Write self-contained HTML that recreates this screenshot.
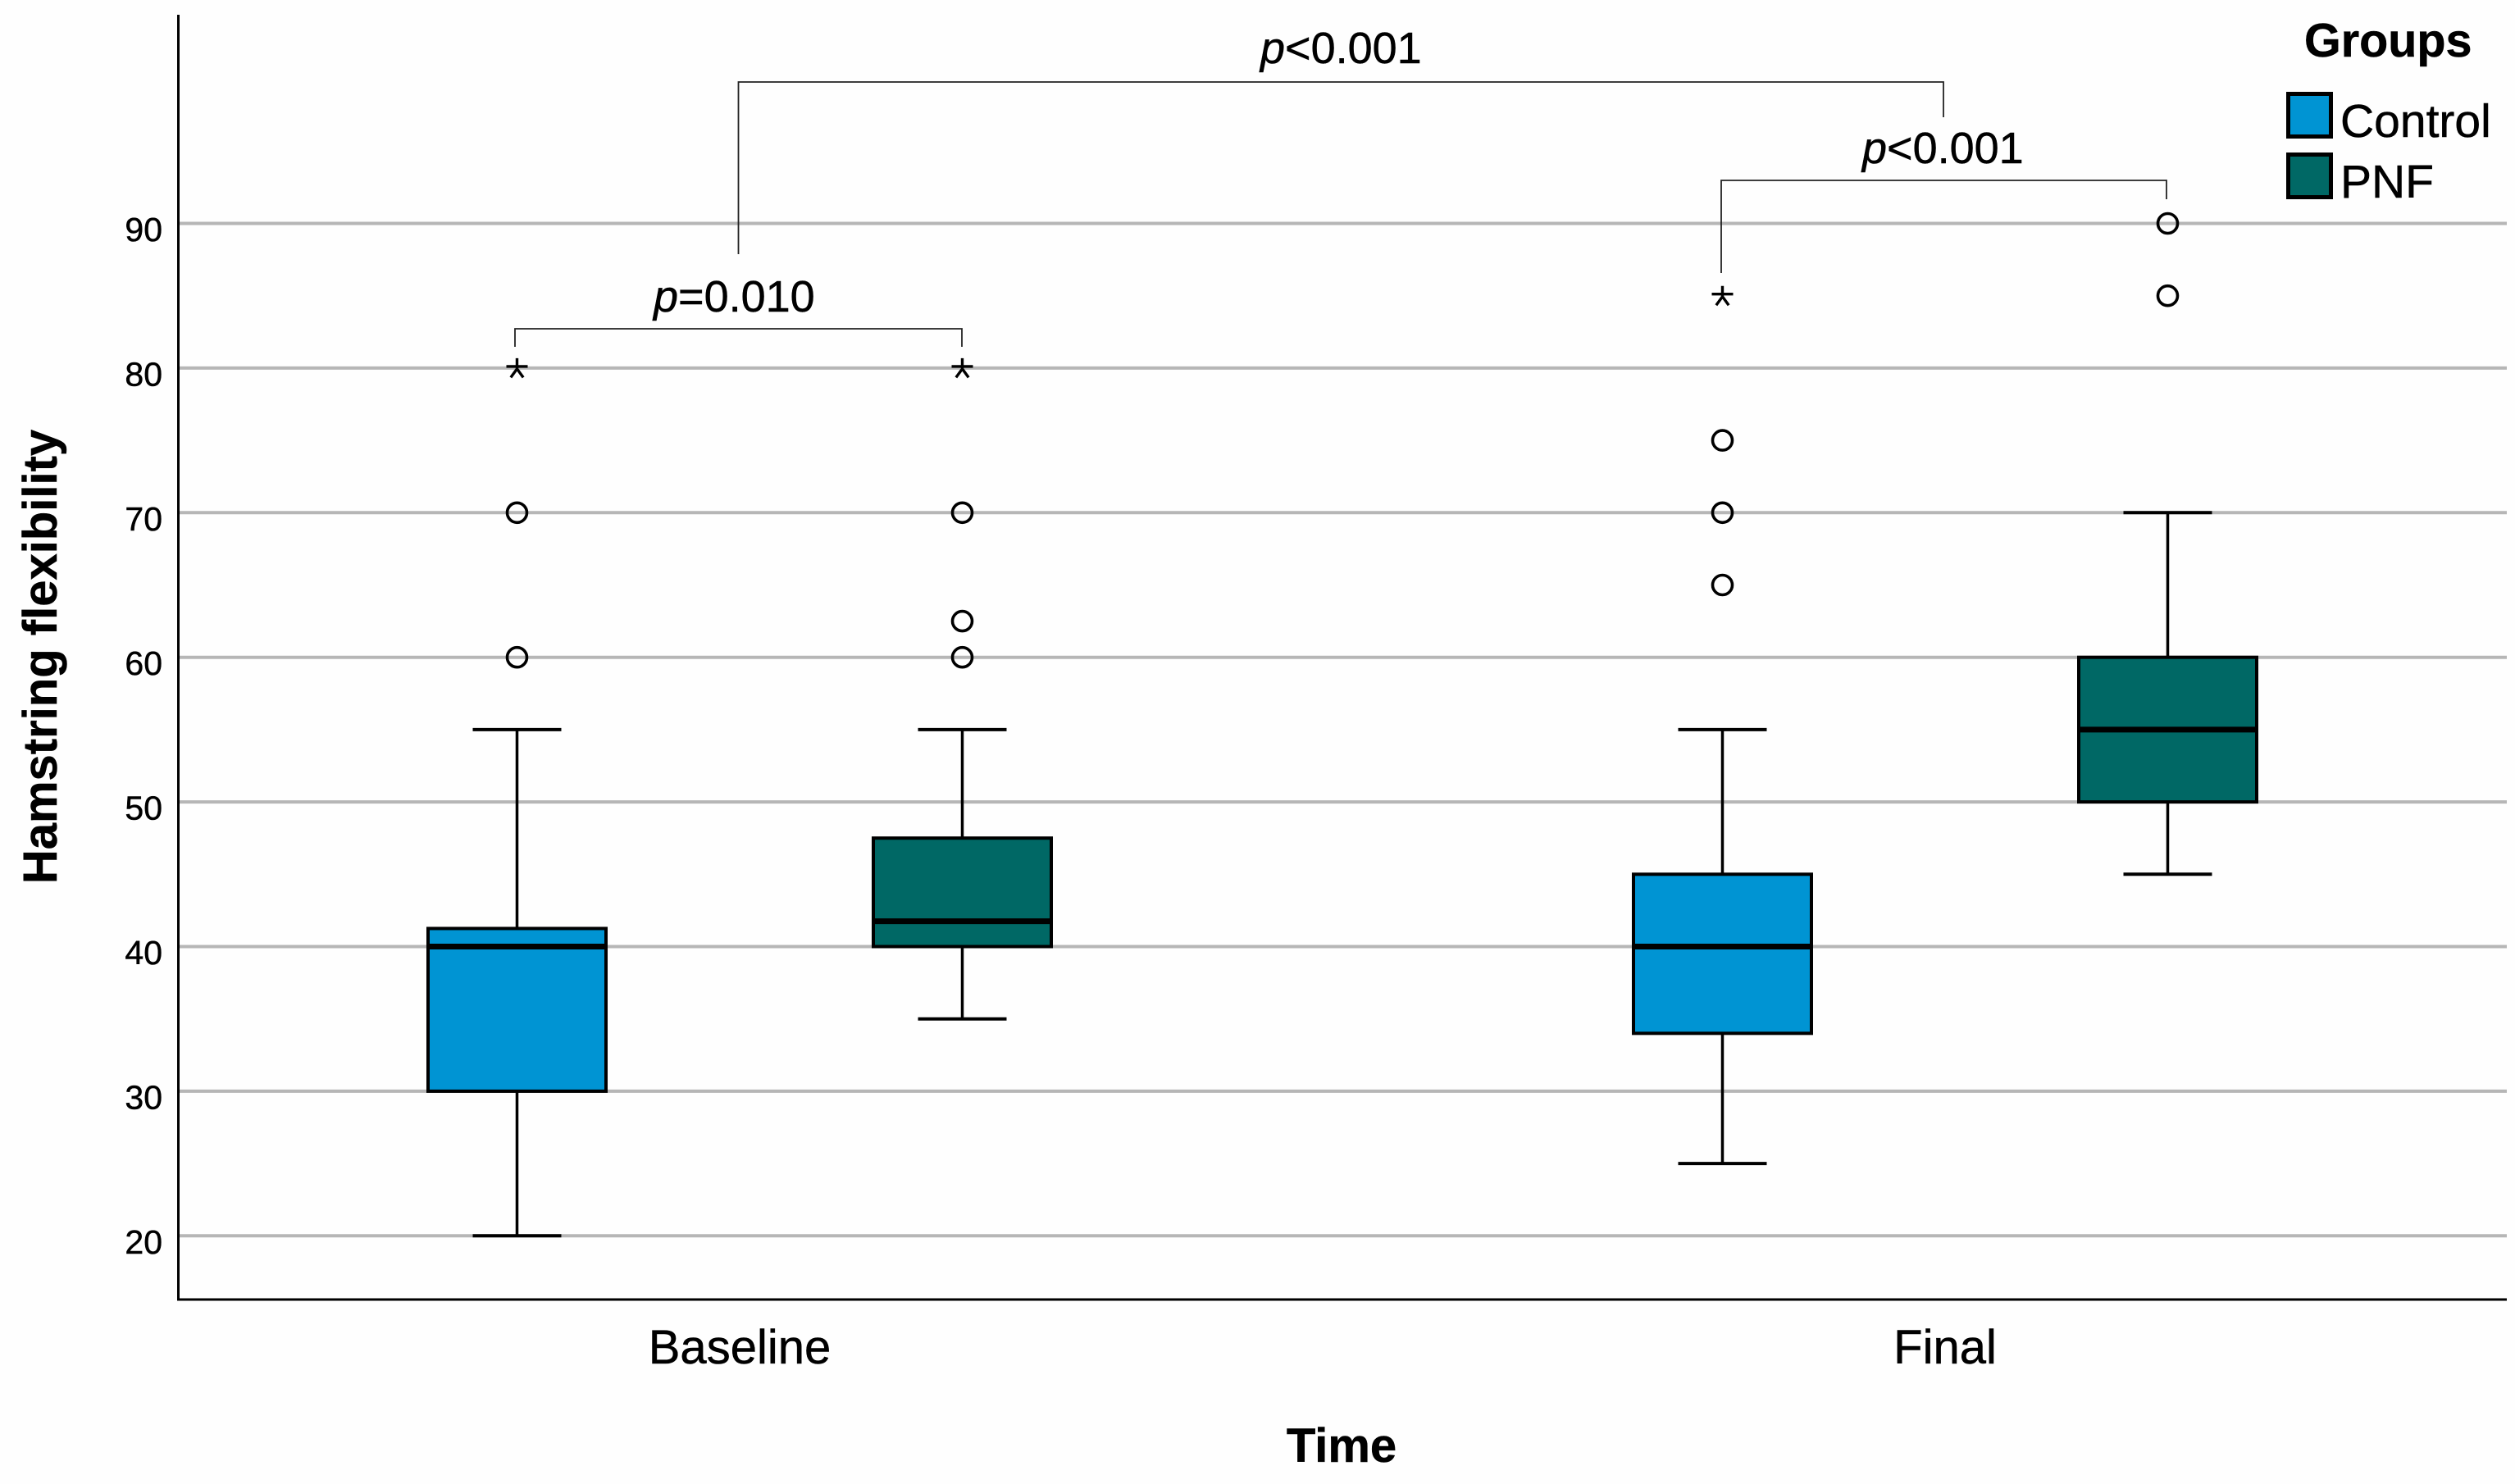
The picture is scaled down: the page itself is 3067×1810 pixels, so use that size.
<!DOCTYPE html>
<html lang="en">
<head>
<meta charset="utf-8">
<title>Hamstring flexibility by time and group</title>
<style>
html,body{margin:0;padding:0;background:#fefefe;}
svg{display:block;}
text{font-family:"Liberation Sans",Arial,sans-serif;fill:#000;stroke:#000;stroke-width:0.5px;}
</style>
</head>
<body>
<svg id="chart" xmlns="http://www.w3.org/2000/svg" width="3067" height="1810" viewBox="0 0 3067 1810">
  <rect x="0" y="0" width="3067" height="1810" fill="#fefefe"/>
  <g id="grid"></g>
  <g id="marks"></g>
  <line x1="217.5" y1="18" x2="217.5" y2="1586" stroke="#000" stroke-width="3"/>
  <line x1="216" y1="1585" x2="3057" y2="1585" stroke="#000" stroke-width="3"/>
  <g id="yticks"></g>
  <g id="xticks"></g>
  <text transform="translate(69,801) rotate(-90)" text-anchor="middle" font-size="58" font-weight="700">Hamstring flexibility</text>
  <text x="1636" y="1783" text-anchor="middle" font-size="58" font-weight="700">Time</text>

  <path d="M628 423V401H1173V423" fill="none" stroke="#222" stroke-width="1.8"/>
  <path d="M2099 333V220H2642V243" fill="none" stroke="#222" stroke-width="1.8"/>
  <path d="M900.5 310V100H2370V143" fill="none" stroke="#222" stroke-width="1.8"/>
  <text x="797" y="380" font-size="54"><tspan font-style="italic">p</tspan>=0.010</text>
  <text x="2271" y="199" font-size="54"><tspan font-style="italic">p</tspan>&lt;0.001</text>
  <text x="1537" y="77" font-size="54"><tspan font-style="italic">p</tspan>&lt;0.001</text>

  <g>
    <text x="2810" y="69" font-size="57.5" font-weight="700">Groups</text>
    <rect x="2790.5" y="114.5" width="52" height="52" fill="#0094d3" stroke="#000" stroke-width="5"/>
    <text x="2854" y="167" font-size="57">Control</text>
    <rect x="2790.5" y="188.5" width="52" height="52" fill="#006865" stroke="#000" stroke-width="5"/>
    <text x="2854" y="241" font-size="57">PNF</text>
  </g>
</svg>
<script>
const yTicks = [20, 30, 40, 50, 60, 70, 80, 90];
const categories = ["Baseline", "Final"];
const groups = ["Control", "PNF"];
const groupColors = ["#0094d3", "#006865"];

// Per box, order: Baseline-Control, Baseline-PNF, Final-Control, Final-PNF
const boxCategory = [0, 0, 1, 1];
const boxGroup = [0, 1, 0, 1];
const whiskerLow = [20, 35, 25, 45];
const q1 = [30, 40, 34, 50];
const median = [40, 41.75, 40, 55];
const q3 = [41.25, 47.5, 45, 60];
const whiskerHigh = [55, 55, 55, 70];
const circleOutliers = [[60, 70], [60, 62.5, 70], [65, 70, 75], [85, 90]];
const extremeOutliers = [[80], [80], [85], []];

const NS = "http://www.w3.org/2000/svg";
function sy(v) { return 272.5 + (90 - v) * 17.64; }
function sxCat(i) { return 902 + i * 1470; }
function sx(cat, grp) { return sxCat(cat) + (grp === 0 ? -271.5 : 271.5); }

function make(parent, tag, attrs) {
  const el = document.createElementNS(NS, tag);
  for (const k in attrs) el.setAttribute(k, attrs[k]);
  parent.appendChild(el);
  return el;
}

const gridG = document.getElementById("grid");
const yG = document.getElementById("yticks");
const xG = document.getElementById("xticks");
const marks = document.getElementById("marks");

yTicks.forEach(function (t) {
  const ln = make(gridG, "line", { x1: 219, x2: 3057, y1: sy(t), y2: sy(t), stroke: "#b6b6b6", "stroke-width": 4 });
  
  
  const lb = make(yG, "text", { x: 198, y: sy(t) + 21.5, "text-anchor": "end", "font-size": 41 });
  lb.textContent = t;
  
  
});

categories.forEach(function (c, i) {
  const lb = make(xG, "text", { x: sxCat(i), y: 1663, "text-anchor": "middle", "font-size": 58 });
  lb.textContent = c;
  
  
});

const boxHalf = 108.5;
const capHalf = 54;
const starR = 13;

boxCategory.forEach(function (cat, i) {
  const grp = boxGroup[i];
  const x = sx(cat, grp);
  const id = categories[cat].toLowerCase() + '-' + groups[grp].toLowerCase();

  const g = make(marks, "g", {});
  
  

  const wh = make(g, "path", {
    d: "M" + x + " " + sy(q3[i]) + "V" + sy(whiskerHigh[i]) + "M" + x + " " + sy(q1[i]) + "V" + sy(whiskerLow[i]),
    stroke: "#000", "stroke-width": 3.5, fill: "none"
  });
  
  

  const capHi = make(g, "line", { x1: x - capHalf, x2: x + capHalf, y1: sy(whiskerHigh[i]), y2: sy(whiskerHigh[i]), stroke: "#000", "stroke-width": 4 });
  
  

  const capLo = make(g, "line", { x1: x - capHalf, x2: x + capHalf, y1: sy(whiskerLow[i]), y2: sy(whiskerLow[i]), stroke: "#000", "stroke-width": 4 });
  
  

  const box = make(g, "rect", { x: x - boxHalf, y: sy(q3[i]), width: boxHalf * 2, height: sy(q1[i]) - sy(q3[i]), fill: groupColors[grp], stroke: "#000", "stroke-width": 4 });
  
  

  const med = make(g, "line", { x1: x - boxHalf, x2: x + boxHalf, y1: sy(median[i]), y2: sy(median[i]), stroke: "#000", "stroke-width": 7 });
  
  

  circleOutliers[i].forEach(function (v) {
    const c = make(g, "circle", { cx: x, cy: sy(v), r: 12, fill: "none", stroke: "#000", "stroke-width": 3.6 });
    
    
  });

  extremeOutliers[i].forEach(function (v) {
    const cy = sy(v) + 2;
    let d = "M" + (x - starR) + " " + (cy - 4) + "H" + (x + starR);
    [-90, 54, 126].forEach(function (deg) {
      const a = deg * Math.PI / 180;
      d += "M" + x + " " + (cy - 1) + "L" + (x + starR * Math.cos(a)) + " " + (cy - 1 + starR * Math.sin(a));
    });
    const s = make(g, "path", { d: d, fill: "none", stroke: "#000", "stroke-width": 3.4 });
    
    
  });
});
</script>
</body>
</html>
